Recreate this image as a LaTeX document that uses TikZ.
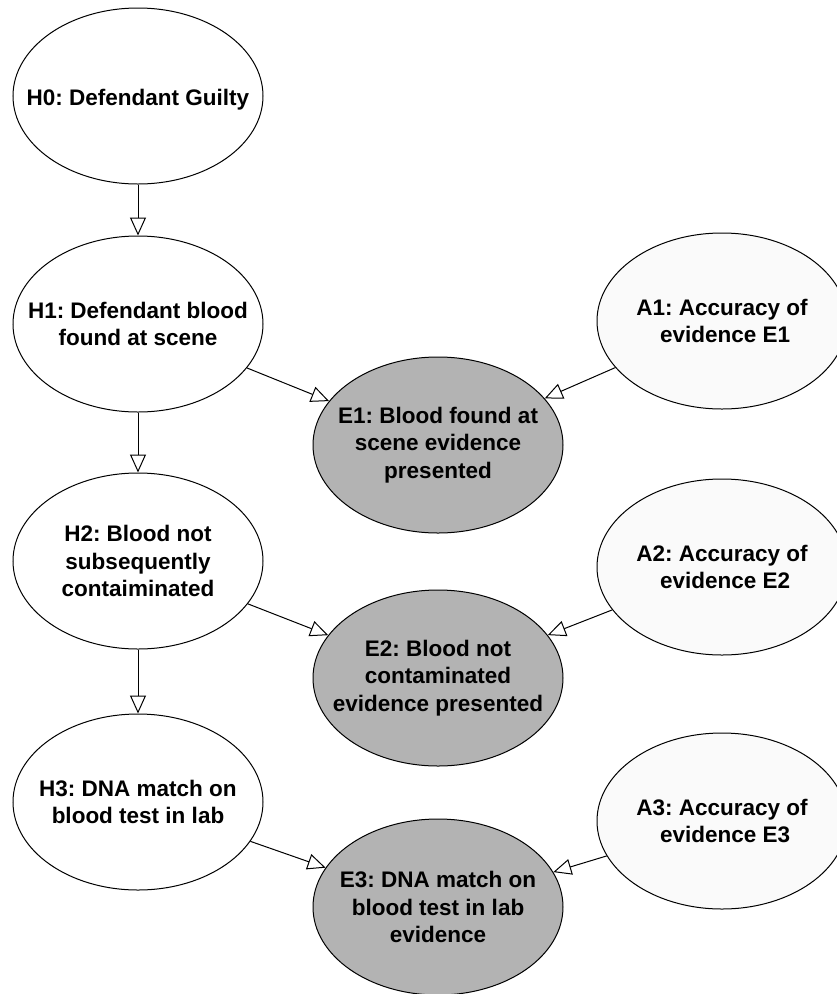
\documentclass[tikz,border=0pt]{standalone}
\usepackage{fontspec}
\setmainfont{Liberation Sans}
\usetikzlibrary{shapes.geometric,arrows.meta}
\definecolor{evgray}{HTML}{B3B3B3}
\definecolor{accgray}{HTML}{FAFAFA}
\frenchspacing
\tikzset{
  ell/.style={ellipse, draw=black, line width=1pt, minimum width=250pt, minimum height=176pt, inner sep=0pt},
  hyp/.style={ell, fill=white},
  evi/.style={ell, fill=evgray},
  acc/.style={ell, fill=accgray},
  lbl/.style={align=center, inner sep=0pt, font=\bfseries\fontsize{22.5}{27.5}\selectfont},
  arr/.style={line width=1pt, -{Triangle[fill=white, length=18pt, width=16pt, line width=1pt]}}
}
\begin{document}
\begin{tikzpicture}[x=1pt,y=-1pt]
\useasboundingbox (0,0) rectangle (837,994);
\node[hyp] (H0) at (138,96) {};
\node[hyp] (H1) at (138,324) {};
\node[hyp] (H2) at (138,561) {};
\node[hyp] (H3) at (138,802) {};
\node[evi] (E1) at (438,445) {};
\node[evi] (E2) at (438,678) {};
\node[evi] (E3) at (438,907) {};
\node[acc] (A1) at (722,321) {};
\node[acc] (A2) at (722,567) {};
\node[acc] (A3) at (722,821) {};
\node[lbl] (H0t) at ([yshift=-4pt]H0.center) {H0: Defendant Guilty};
\node[lbl] (H1t) at (H1) {H1: Defendant blood\\found at scene};
\node[lbl] (H2t) at (H2) {H2: Blood not\\subsequently\\contaiminated};
\node[lbl] (H3t) at (H3) {H3: DNA match on\\blood test in lab};
\node[lbl] (E1t) at (E1) {E1: Blood found at\\scene evidence\\presented};
\node[lbl] (E2t) at (E2) {E2: Blood not\\contaminated\\evidence presented};
\node[lbl] (E3t) at (E3) {E3: DNA match on\\blood test in lab\\evidence};
\node[lbl] (A1t) at (A1) {A1: Accuracy of\\\ evidence E1};
\node[lbl] (A2t) at (A2) {A2: Accuracy of\\\ evidence E2};
\node[lbl] (A3t) at (A3) {A3: Accuracy of\\\ evidence E3};
\draw[arr] (H0) -- (H1);
\draw[arr] (H1) -- (H2);
\draw[arr] (H2) -- (H3);
\draw[arr] (H1) -- (E1);
\draw[arr] (H2) -- (E2);
\draw[arr] (H3) -- (E3);
\draw[arr] (A1) -- (E1);
\draw[arr] (A2) -- (E2);
\draw[arr] (A3) -- (E3);
\end{tikzpicture}
\end{document}
